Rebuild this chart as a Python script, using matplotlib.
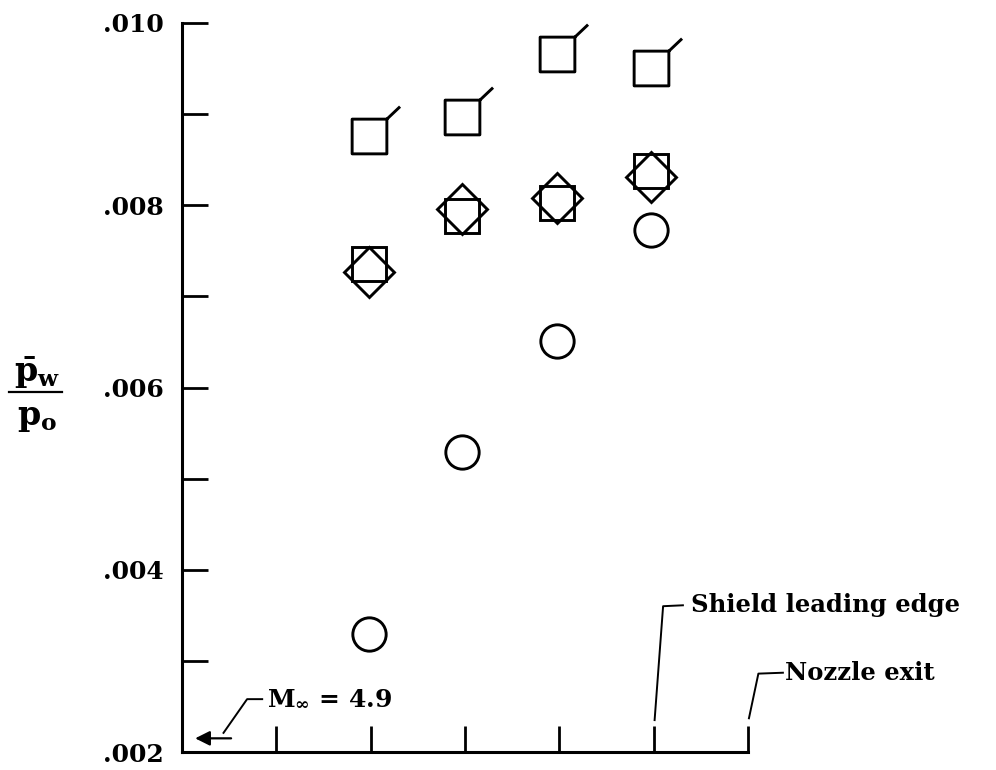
import numpy as np
import matplotlib
matplotlib.use("Agg")
import matplotlib.pyplot as plt
from matplotlib.path import Path
from matplotlib.lines import Line2D

plt.rcParams['font.family'] = ['DejaVu Serif']
plt.rcParams['font.weight'] = 'bold'
plt.rcParams['mathtext.fontset'] = 'dejavuserif'

# station positions along the model (tick spacing = 1)
stations = [1.98, 2.97, 3.98, 4.97]

# pressure ratios
flag_square = [0.00876, 0.00897, 0.00966, 0.00951]
open_square = [0.00736, 0.00788, 0.00802, 0.00838]
diamond = [0.00727, 0.00796, 0.00808, 0.00831]
circle = [0.00330, 0.00529, 0.00651, 0.00773]

y_ticks = [0.002, 0.003, 0.004, 0.005, 0.006, 0.007, 0.008, 0.009, 0.010]
y_labels = ['.002', '', '.004', '', '.006', '', '.008', '', '.010']
x_ticks = [1, 2, 3, 4, 5, 6]

fig = plt.figure(figsize=(9.96, 7.7), dpi=100)
ax = fig.add_axes([182 / 996, 18 / 770, 566 / 996, 729 / 770])
ax.set_xlim(0, 6)
ax.set_ylim(0.002, 0.010)

for s in ['top', 'right']:
    ax.spines[s].set_visible(False)
for s in ['left', 'bottom']:
    ax.spines[s].set_linewidth(2.2)

ax.set_yticks(y_ticks)
ax.set_yticklabels(y_labels)
ax.set_xticks(x_ticks)
ax.set_xticklabels([])
ax.tick_params(direction='in', length=19, width=2.0, pad=13)
ax.tick_params(axis='y', labelsize=18)

# square with a flag at the upper-right corner
flag_verts = [(-0.5, -0.5), (0.5, -0.5), (0.5, 0.5), (-0.5, 0.5), (-0.5, -0.5),
              (0.5, 0.5), (0.88, 0.86)]
flag_codes = [Path.MOVETO, Path.LINETO, Path.LINETO, Path.LINETO, Path.CLOSEPOLY,
              Path.MOVETO, Path.LINETO]
flag_marker = Path(flag_verts, flag_codes)

mk = dict(linestyle='none', color='black', markerfacecolor='none',
          markeredgewidth=2.1, clip_on=False)
ax.plot(stations, flag_square, marker=flag_marker, markersize=25 * 0.88 / 0.5, **mk)
ax.plot(stations, open_square, marker='s', markersize=25, **mk)
ax.plot(stations, diamond, marker='D', markersize=25, **mk)
ax.plot(stations, circle, marker='o', markersize=24, **mk)

# y-axis label as a stacked fraction
fig.text(37 / 996, 1 - 373 / 770, r'$\bar{\mathbf{p}}_{\mathbf{w}}$',
         fontsize=24, ha='center', va='center')
fig.add_artist(Line2D([9 / 996, 62 / 996], [1 - 392 / 770, 1 - 392 / 770],
                      color='black', linewidth=1.6))
fig.text(37 / 996, 1 - 417 / 770, r'$\mathbf{p}_{\mathbf{o}}$',
         fontsize=24, ha='center', va='center')

lk = dict(color='black', linewidth=1.4, clip_on=False)
# Shield leading edge leader
ax.plot([5.01, 5.10, 5.31], [0.00235, 0.00360, 0.00361], **lk)
ax.text(5.40, 0.00361, 'Shield leading edge', fontsize=17.5, fontweight='bold',
        ha='left', va='center')
# Nozzle exit leader
ax.plot([6.01, 6.11, 6.37], [0.00237, 0.00286, 0.00287], **lk)
ax.text(6.39, 0.00287, 'Nozzle exit', fontsize=17.5, fontweight='bold',
        ha='left', va='center')
# free-stream Mach number
ax.annotate('', xy=(0.11, 0.00215), xytext=(0.55, 0.00215),
            arrowprops=dict(arrowstyle='-|>', color='black', lw=1.6,
                            mutation_scale=22))
ax.plot([0.44, 0.69, 0.85], [0.00221, 0.00258, 0.00258], **lk)
ax.text(0.90, 0.00259, r'M$_{\mathbf{\infty}}$ = 4.9', fontsize=18,
        fontweight='bold', ha='left', va='center')

fig.savefig('out.png', dpi=100)
